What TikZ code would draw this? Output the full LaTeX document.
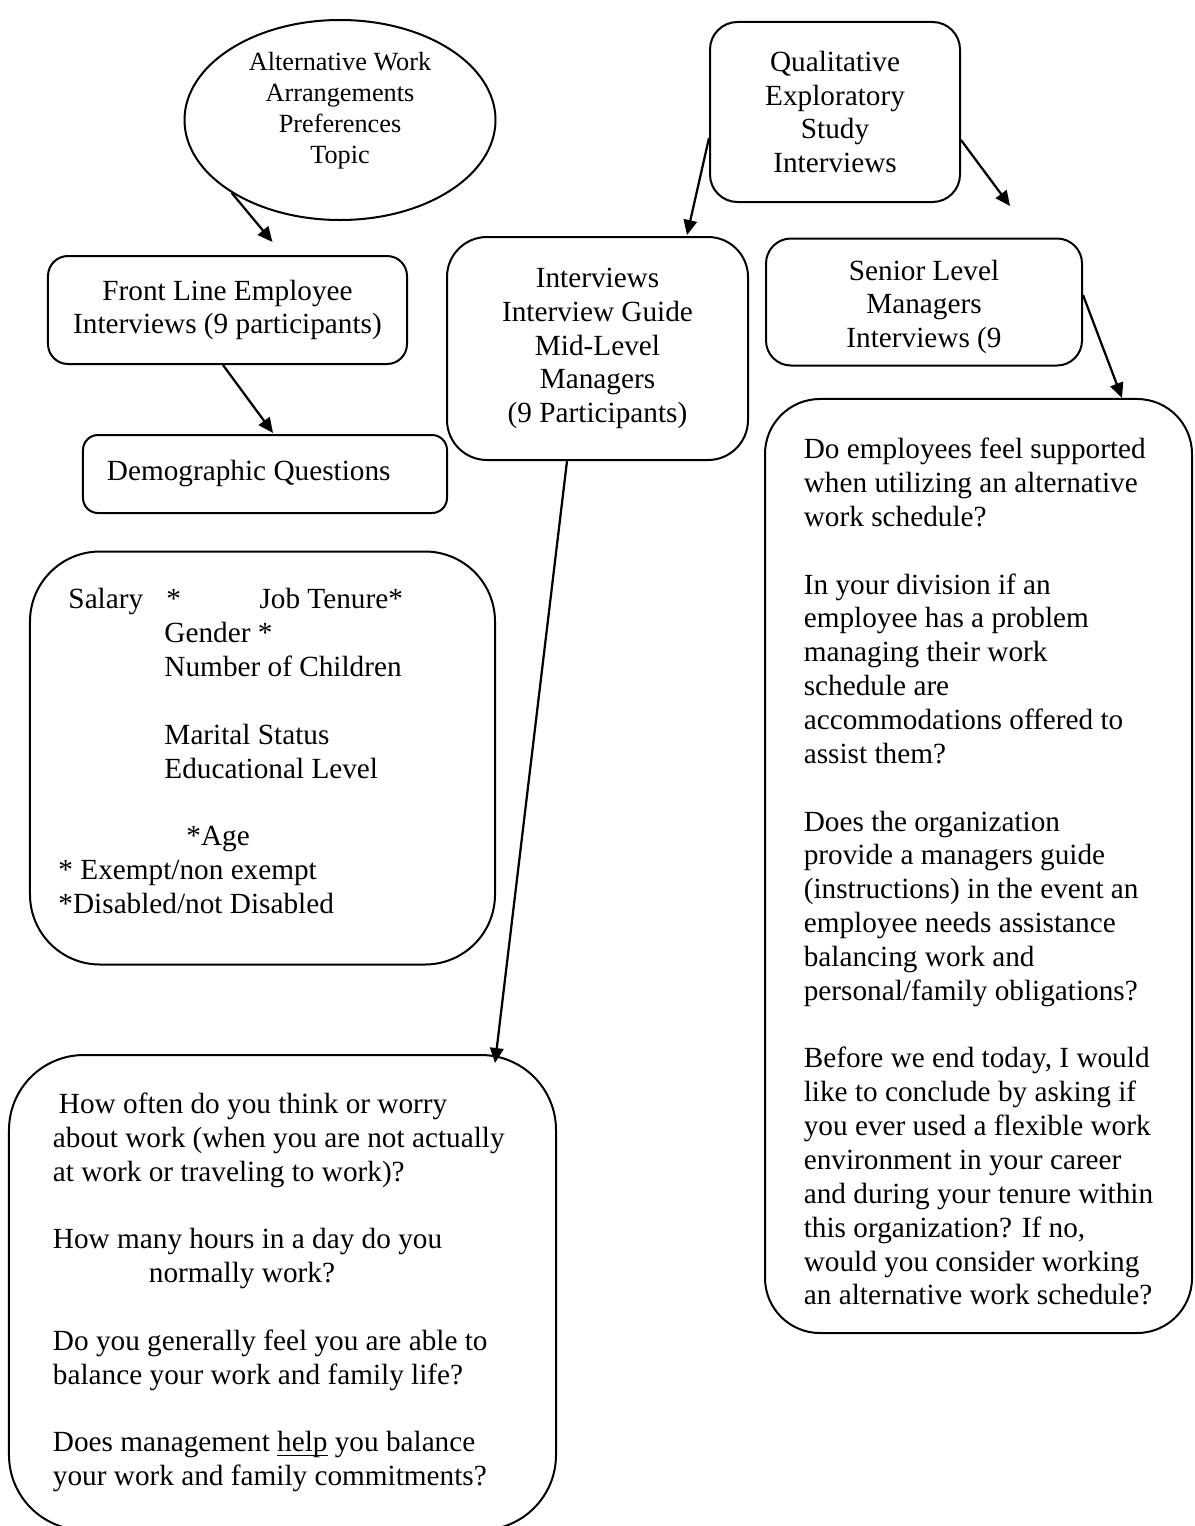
\documentclass[tikz,border=0pt]{standalone}
\usepackage{fontspec}
\setmainfont{Liberation Serif}
\usetikzlibrary{positioning, arrows.meta, shapes.geometric, calc}
\newcommand\ulword[1]{\setbox0\hbox{#1}\rlap{\rule[-1.6pt]{\wd0}{0.5pt}}\box0\relax}

\begin{document}
\begin{tikzpicture}[x=0.4pt, y=-0.4pt,
  arr/.style={-{Triangle[length=6pt, width=5.4pt]}, line width=0.9pt},
  card/.style={rectangle, draw=black, line width=0.8pt, inner sep=0pt,
               font=\fontsize{11.7}{13.54}\selectfont},
  topic/.style={ellipse, draw=black, line width=0.8pt, inner sep=0pt,
                align=center, font=\fontsize{10.5}{12.4}\selectfont}
]
\path[use as bounding box, fill=white] (0,0) rectangle (1194,1526);
\clip (0,0) rectangle (1194,1526);

\node[topic, minimum width=124.4pt, minimum height=80pt, text depth=10pt] (topic) at (340,120)
  {Alternative Work\\Arrangements\\Preferences\\Topic};
\node[card, rounded corners=11pt, minimum width=100pt, minimum height=72pt, align=center] (study) at (835,112)
  {Qualitative\\Exploratory\\Study\\Interviews};
\node[card, rounded corners=8pt, minimum width=143.6pt, minimum height=43.2pt, align=center] (front) at (227.5,310)
  {Front Line Employee\\Interviews (9 participants)};
\node[card, rounded corners=6pt, minimum width=145.6pt, minimum height=31.2pt, align=flush left, text width=126.4pt] (demo) at (265,474)
  {Demographic Questions};
\node[card, rounded corners=16pt, minimum width=120.4pt, minimum height=89.2pt, align=center] (mid) at (597.5,348.5)
  {Interviews\\Interview Guide\\Mid-Level\\Managers\\(9 Participants)};
\node[card, rounded corners=10pt, minimum width=126.4pt, minimum height=50.8pt, align=center] (senior) at (924,302)
  {\rule{0pt}{12pt}Senior Level\\Managers\\Interviews (9};
\node[card, rounded corners=22pt, minimum width=170.8pt, minimum height=373.6pt, align=left] (seniorq) at (978.5,866)
  {\rule{0pt}{12.8pt}Do employees feel supported\\
   when utilizing an alternative\\
   work schedule?\\[13.54pt]
   In your division if an\\
   employee has a problem\\
   managing their work\\
   schedule are\\
   accommodations offered to\\
   assist them?\\[13.54pt]
   Does the organization\\
   provide a managers guide\\
   (instructions) in the event an\\
   employee needs assistance\\
   balancing work and\\
   personal/family obligations?\\[13.54pt]
   Before we end today, I would\\
   like to conclude by asking if\\
   you ever used a flexible work\\
   environment in your career\\
   and during your tenure within\\
   this organization? If no,\\
   would you consider working\\
   an alternative work schedule?};
\node[card, rounded corners=28pt, minimum width=186pt, minimum height=165.2pt, align=flush left, text width=163.2pt] (salary) at (262.5,758)
  {\makebox[43.2pt][l]{\hspace*{4pt}Salary}\makebox[37.2pt][l]{*}Job Tenure*\\
   \hspace*{42.4pt}Gender *\\
   \hspace*{42.4pt}Number of Children\\[13.54pt]
   \hspace*{42.4pt}Marital Status\\
   \hspace*{42.4pt}Educational Level\\[13.54pt]
   \hspace*{51.2pt}*Age\\
   {}* Exempt/non exempt\\
   {}*Disabled/not Disabled\rule[-5.6pt]{0pt}{0pt}};
\node[card, rounded corners=30pt, minimum width=218.8pt, minimum height=190pt, align=flush left, text width=183.6pt] (habits) at (282.5,1292.5)
  {\hspace*{2.4pt}How often do you think or worry\\
   about work (when you are not actually\\
   at work or traveling to work)?\\[13.54pt]
   How many hours in a day do you\\
   \hspace*{38.4pt}normally work?\\[13.54pt]
   Do you generally feel you are able to\\
   balance your work and family life?\\[13.54pt]
   Does management \ulword{help} you balance\\
   your work and family commitments?};

\draw[arr] (topic.214) -- ($(front.north)+(45,-13)$);
\draw[arr] ($(study.west)+(0,26)$) -- ($(mid.north)+(89.5,-1)$);
\draw[arr] ($(study.east)+(0,28)$) -- ($(senior.north)+(86,-31.5)$);
\draw[arr] ($(front.south)+(-4.5,0)$) -- ($(demo.north)+(8,-1)$);
\draw[arr] ($(senior.east)+(0,-7)$) -- ($(seniorq.north)+(143.5,0)$);
\draw[arr] ($(mid.south)+(-30.5,0)$) -- ($(habits.north)+(212.5,9)$);
\end{tikzpicture}
\end{document}
